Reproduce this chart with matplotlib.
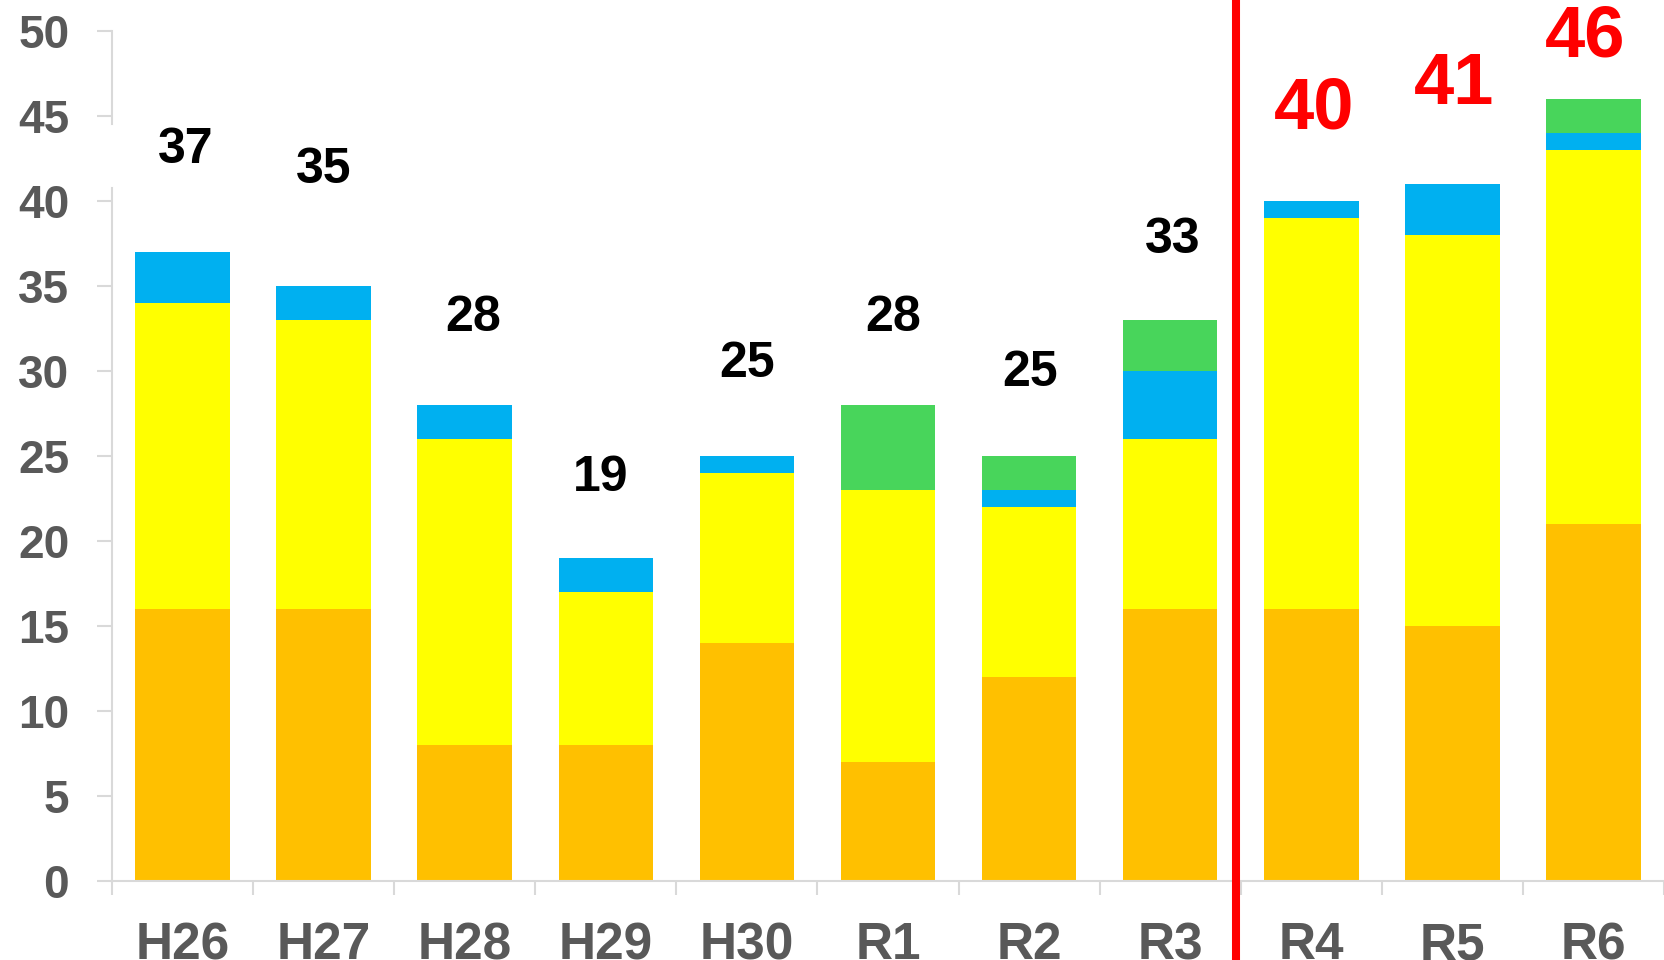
import matplotlib.pyplot as plt
from matplotlib.lines import Line2D
from matplotlib.transforms import blended_transform_factory

plt.rcParams['font.family'] = ['Liberation Sans', 'DejaVu Sans']

years = ['H26', 'H27', 'H28', 'H29', 'H30', 'R1', 'R2', 'R3', 'R4', 'R5', 'R6']
orange_vals = [16, 16, 8, 8, 14, 7, 12, 16, 16, 15, 21]
yellow_vals = [18, 17, 18, 9, 10, 16, 10, 10, 23, 23, 22]
blue_vals = [3, 2, 2, 2, 1, 0, 1, 4, 1, 3, 1]
green_vals = [0, 0, 0, 0, 0, 5, 2, 3, 0, 0, 2]
totals = [37, 35, 28, 19, 25, 28, 25, 33, 40, 41, 46]

# where each total label sits relative to its bar top / bar centre
label_gap = [6.0, 6.8, 5.1, 4.7, 5.4, 5.1, 4.9, 4.7, 5.4, 5.8, 3.6]
label_dx = [0.02, 0.0, 0.06, -0.04, 0.0, 0.04, 0.01, 0.02, 0.02, 0.01, -0.06]
split_after = 7  # red divider sits between R3 and R4

orange = '#FFC000'
yellow = '#FFFF00'
blue = '#00B0F0'
green = '#48D55B'
gray_axis = '#D9D9D9'
gray_text = '#595959'

fig = plt.figure(figsize=(16.65, 9.6), dpi=100)
ax = fig.add_axes([112 / 1665, 1 - 881 / 960, (1664 - 112) / 1665, 850 / 960])

x = list(range(len(years)))
w = 0.67
bottom = [0] * len(years)
for vals, col in [(orange_vals, orange), (yellow_vals, yellow),
                  (blue_vals, blue), (green_vals, green)]:
    ax.bar(x, vals, w, bottom=bottom, color=col, edgecolor='none', zorder=2)
    bottom = [b + v for b, v in zip(bottom, vals)]

for i, t in enumerate(totals):
    if i > split_after:
        ax.text(i + label_dx[i], t + label_gap[i], str(t), ha='center', va='center',
                fontsize=52, fontweight='bold', color='#FF0000')
    else:
        ax.text(i + label_dx[i], t + label_gap[i], str(t), ha='center', va='center',
                fontsize=36, fontweight='bold', color='black')

ax.set_xlim(-0.5, len(years) - 0.5)
ax.set_ylim(0, 50)
ax.set_yticks(range(0, 51, 5))
ax.set_xticks(x)
ax.set_xticklabels(years)
ax.set_xticks([i - 0.5 for i in range(len(years) + 1)], minor=True)

for s in ['top', 'right', 'left']:
    ax.spines[s].set_visible(False)
ax.spines['bottom'].set_color(gray_axis)
ax.spines['bottom'].set_linewidth(1.5)

# left axis line, broken where the first label box sits
ax.plot([-0.5, -0.5], [0, 40.76], color=gray_axis, lw=1.5, clip_on=False, zorder=1)
ax.plot([-0.5, -0.5], [44.55, 50], color=gray_axis, lw=1.5, clip_on=False, zorder=1)

ax.tick_params(axis='y', length=10.8, width=1.5, color=gray_axis, pad=20,
               labelsize=33, labelcolor=gray_text)
ax.tick_params(axis='x', which='major', length=0, pad=29,
               labelsize=37, labelcolor=gray_text)
ax.tick_params(axis='x', which='minor', length=10, width=1.5, color=gray_axis)
for lab in ax.get_xticklabels() + ax.get_yticklabels():
    lab.set_fontweight('bold')

trans = blended_transform_factory(ax.transData, fig.transFigure)
fig.add_artist(Line2D([split_after + 0.468] * 2, [0, 1], transform=trans,
                      color='#FF0000', lw=5.8, zorder=5))

fig.savefig('out.png', dpi=100)
